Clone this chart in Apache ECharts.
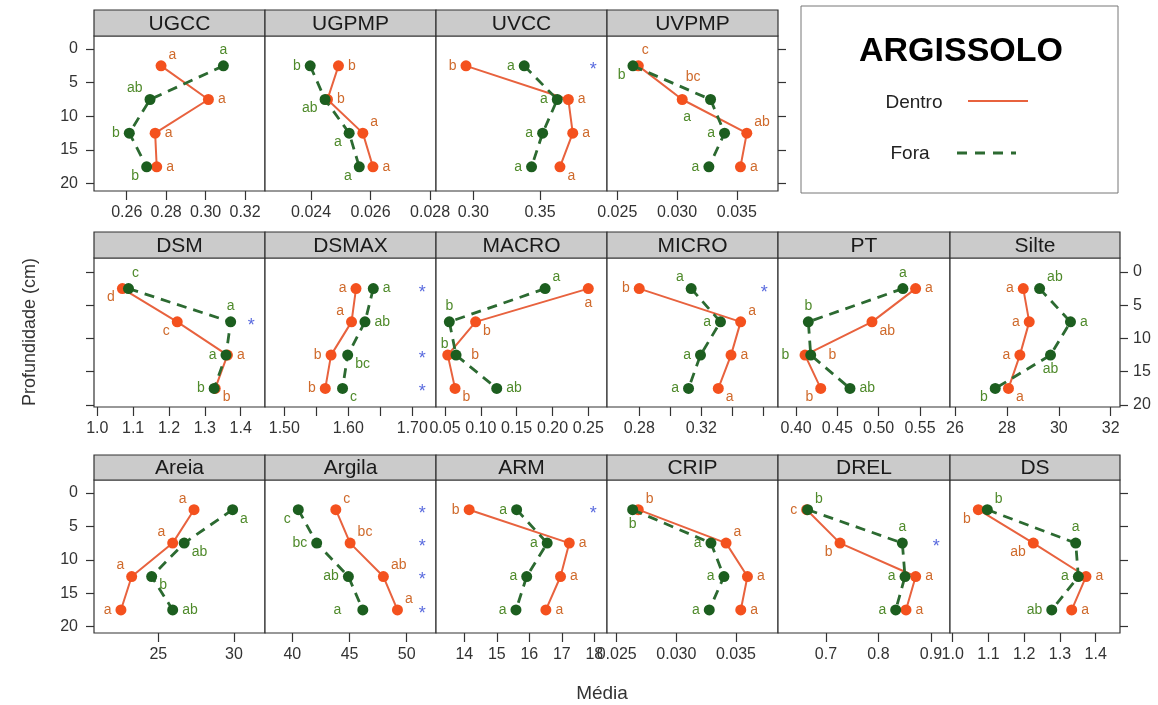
<!DOCTYPE html>
<html>
<head>
<meta charset="utf-8">
<title>ARGISSOLO</title>
<script src="https://cdn.jsdelivr.net/npm/echarts@6/dist/echarts.min.js"></script>
<style>
  html, body { margin: 0; padding: 0; background: #fff; }
  #chart { width: 1158px; height: 705px; }
</style>
</head>
<body>
<div id="chart"></div>
<script>
// profundidade (cm) - ponto médio de cada camada
const profundidade = [2.5, 7.5, 12.5, 17.5];
const ticksProf = [0, 5, 10, 15, 20];

// ---- linha 1 ----
const dentroUGCC = [0.2774, 0.3014, 0.2744, 0.2752];
const foraUGCC = [0.309, 0.2718, 0.2613, 0.2701];
const letrasDentroUGCC = ['a', 'a', 'a', 'a'];
const letrasForaUGCC = ['a', 'ab', 'b', 'b'];
const rotulosUGCC = ['0.26', '0.28', '0.30', '0.32'];

const dentroUGPMP = [0.02492, 0.02455, 0.02574, 0.02608];
const foraUGPMP = [0.02397, 0.02447, 0.02528, 0.02562];
const letrasDentroUGPMP = ['b', 'b', 'a', 'a'];
const letrasForaUGPMP = ['b', 'ab', 'a', 'a'];
const rotulosUGPMP = ['0.024', '0.026', '0.028'];

const dentroUVCC = [0.2945, 0.3713, 0.3746, 0.365];
const foraUVCC = [0.3382, 0.363, 0.352, 0.3437];
const letrasDentroUVCC = ['b', 'a', 'a', 'a'];
const letrasForaUVCC = ['a', 'a', 'a', 'a'];
const rotulosUVCC = ['0.30', '0.35'];
const estrelasUVCC = [2.5];

const dentroUVPMP = [0.02676, 0.03043, 0.03583, 0.0353];
const foraUVPMP = [0.02631, 0.0328, 0.03397, 0.03266];
const letrasDentroUVPMP = ['c', 'bc', 'ab', 'a'];
const letrasForaUVPMP = ['b', 'a', 'a', 'a'];
const rotulosUVPMP = ['0.025', '0.030', '0.035'];

// ---- linha 2 ----
const dentroDSM = [1.070, 1.223, 1.363, 1.329];
const foraDSM = [1.087, 1.372, 1.359, 1.326];
const letrasDentroDSM = ['d', 'c', 'a', 'b'];
const letrasForaDSM = ['c', 'a', 'a', 'b'];
const rotulosDSM = ['1.0', '1.1', '1.2', '1.3', '1.4'];
const estrelasDSM = [7.5];

const dentroDSMAX = [1.612, 1.605, 1.573, 1.564];
const foraDSMAX = [1.639, 1.626, 1.599, 1.591];
const letrasDentroDSMAX = ['a', 'a', 'b', 'b'];
const letrasForaDSMAX = ['a', 'ab', 'bc', 'c'];
const rotulosDSMAX = ['1.50', '1.60', '1.70'];
const marcasDSMAX = [1.50, 1.55, 1.60, 1.65, 1.70];
const estrelasDSMAX = [2.5, 12.5, 17.5];

const dentroMACRO = [0.250, 0.0927, 0.0538, 0.064];
const foraMACRO = [0.1897, 0.056, 0.0654, 0.1222];
const letrasDentroMACRO = ['a', 'b', 'b', 'b'];
const letrasForaMACRO = ['a', 'b', 'b', 'ab'];
const rotulosMACRO = ['0.05', '0.10', '0.15', '0.20', '0.25'];

const dentroMICRO = [0.280, 0.3454, 0.3392, 0.331];
const foraMICRO = [0.3135, 0.3324, 0.3195, 0.3118];
const letrasDentroMICRO = ['b', 'a', 'a', 'a'];
const letrasForaMICRO = ['a', 'a', 'a', 'a'];
const rotulosMICRO = ['0.28', '0.32'];
const marcasMICRO = [0.28, 0.30, 0.32, 0.34, 0.36];
const estrelasMICRO = [2.5];

const dentroPT = [0.5447, 0.4919, 0.4109, 0.4299];
const foraPT = [0.5293, 0.4149, 0.4178, 0.4653];
const letrasDentroPT = ['a', 'ab', 'b', 'b'];
const letrasForaPT = ['a', 'b', 'b', 'ab'];
const rotulosPT = ['0.40', '0.45', '0.50', '0.55'];

const dentroSilte = [28.63, 28.86, 28.50, 28.06];
const foraSilte = [29.26, 30.45, 29.68, 27.55];
const letrasDentroSilte = ['a', 'a', 'a', 'a'];
const letrasForaSilte = ['ab', 'a', 'ab', 'b'];
const rotulosSilte = ['26', '28', '30', '32'];

// ---- linha 3 ----
const dentroAreia = [27.36, 25.95, 23.24, 22.53];
const foraAreia = [29.91, 26.71, 24.56, 25.95];
const letrasDentroAreia = ['a', 'a', 'a', 'a'];
const letrasForaAreia = ['a', 'ab', 'b', 'ab'];
const rotulosAreia = ['25', '30'];

const dentroArgila = [43.80, 45.05, 47.96, 49.19];
const foraArgila = [40.52, 42.13, 44.90, 46.16];
const letrasDentroArgila = ['c', 'bc', 'ab', 'a'];
const letrasForaArgila = ['c', 'bc', 'ab', 'a'];
const rotulosArgila = ['40', '45', '50'];
const estrelasArgila = [2.5, 7.5, 12.5, 17.5];

const dentroARM = [14.15, 17.23, 16.96, 16.51];
const foraARM = [15.61, 16.55, 15.92, 15.59];
const letrasDentroARM = ['b', 'a', 'a', 'a'];
const letrasForaARM = ['a', 'a', 'a', 'a'];
const rotulosARM = ['14', '15', '16', '17', '18'];
const estrelasARM = [2.5];

const dentroCRIP = [0.02681, 0.03417, 0.03596, 0.0354];
const foraCRIP = [0.02634, 0.0329, 0.03399, 0.03276];
const letrasDentroCRIP = ['b', 'a', 'a', 'a'];
const letrasForaCRIP = ['b', 'a', 'a', 'a'];
const rotulosCRIP = ['0.025', '0.030', '0.035'];

const dentroDREL = [0.6632, 0.7267, 0.8708, 0.8524];
const foraDREL = [0.665, 0.8454, 0.8505, 0.8328];
const letrasDentroDREL = ['c', 'b', 'a', 'a'];
const letrasForaDREL = ['b', 'a', 'a', 'a'];
const rotulosDREL = ['0.7', '0.8', '0.9'];
const estrelasDREL = [7.5];

const dentroDS = [1.0716, 1.2255, 1.3729, 1.3329];
const foraDS = [1.0968, 1.3441, 1.3515, 1.2771];
const letrasDentroDS = ['b', 'ab', 'a', 'a'];
const letrasForaDS = ['b', 'a', 'a', 'ab'];
const rotulosDS = ['1.0', '1.1', '1.2', '1.3', '1.4'];

// cores
const corDentro = '#f4511e';
const corLinhaDentro = '#e8623e';
const corLetraDentro = '#cf6a2c';
const corFora = '#1c5e1f';
const corLinhaFora = '#2c6a31';
const corLetraFora = '#4f8a2b';
const fonte = '"Liberation Sans", Arial, sans-serif';

// layout dos paineis (estilo lattice)
const colunas = [94, 265, 436, 607, 778, 950, 1120];
const linhas = [
  { faixa: 10, topo: 36, base: 191, ymin: -1.94, ymax: 21.1 },
  { faixa: 232, topo: 258, base: 407, ymin: -2.1, ymax: 20.3 },
  { faixa: 455, topo: 480, base: 633, ymin: -1.94, ymax: 20.95 }
];

// posicao das letras: r l t b tr tl br bl rr ll bll ttr
const POS = {
  r: { position: 'right', distance: 4 },
  rr: { position: 'right', distance: 18 },
  l: { position: 'left', distance: 4 },
  ll: { position: 'left', distance: 16 },
  t: { position: 'top', distance: 3 },
  b: { position: 'bottom', distance: 2 },
  tr: { position: 'right', distance: 2, offset: [0, -11] },
  tl: { position: 'left', distance: 2, offset: [0, -11] },
  br: { position: 'right', distance: 2, offset: [0, 9] },
  bl: { position: 'left', distance: 2, offset: [0, 9] },
  bll: { position: 'left', distance: 2, offset: [-12, 18] },
  ttr: { position: 'top', distance: 3, offset: [7, 0] },
  tttr: { position: 'top', distance: 10, offset: [11, 0] }
};

const paineis = [
  { nome: 'UGCC', lin: 0, col: 0, min: 0.2434, max: 0.3301, d: dentroUGCC, f: foraUGCC, ld: letrasDentroUGCC, lf: letrasForaUGCC, rot: rotulosUGCC,
    pd: ['tr', 'r', 'r', 'r'], pf: ['t', 'tl', 'l', 'bl'], eixoY: 'left', rotY: true },
  { nome: 'UGPMP', lin: 0, col: 1, min: 0.02245, max: 0.0282, d: dentroUGPMP, f: foraUGPMP, ld: letrasDentroUGPMP, lf: letrasForaUGPMP, rot: rotulosUGPMP,
    pd: ['r', 'r', 'tr', 'r'], pf: ['l', 'bl', 'bl', 'bl'] },
  { nome: 'UVCC', lin: 0, col: 2, min: 0.272, max: 0.4003, d: dentroUVCC, f: foraUVCC, ld: letrasDentroUVCC, lf: letrasForaUVCC, rot: rotulosUVCC, est: estrelasUVCC,
    pd: ['l', 'r', 'r', 'br'], pf: ['l', 'l', 'l', 'l'] },
  { nome: 'UVPMP', lin: 0, col: 3, min: 0.02414, max: 0.03844, d: dentroUVPMP, f: foraUVPMP, ld: letrasDentroUVPMP, lf: letrasForaUVPMP, rot: rotulosUVPMP,
    pd: ['ttr', 'tttr', 'tr', 'r'], pf: ['bl', 'bll', 'l', 'l'], eixoY: 'right' },

  { nome: 'DSM', lin: 1, col: 0, min: 0.9908, max: 1.4678, d: dentroDSM, f: foraDSM, ld: letrasDentroDSM, lf: letrasForaDSM, rot: rotulosDSM, est: estrelasDSM,
    pd: ['bl', 'bl', 'r', 'br'], pf: ['ttr', 't', 'l', 'l'], eixoY: 'left' },
  { nome: 'DSMAX', lin: 1, col: 1, min: 1.4698, max: 1.737, d: dentroDSMAX, f: foraDSMAX, ld: letrasDentroDSMAX, lf: letrasForaDSMAX, rot: rotulosDSMAX, marcas: marcasDSMAX, est: estrelasDSMAX,
    pd: ['l', 'tl', 'l', 'l'], pf: ['r', 'r', 'br', 'br'] },
  { nome: 'MACRO', lin: 1, col: 2, min: 0.0374, max: 0.2761, d: dentroMACRO, f: foraMACRO, ld: letrasDentroMACRO, lf: letrasForaMACRO, rot: rotulosMACRO,
    pd: ['b', 'br', 'rr', 'br'], pf: ['tr', 't', 'tl', 'r'] },
  { nome: 'MICRO', lin: 1, col: 3, min: 0.2592, max: 0.3695, d: dentroMICRO, f: foraMICRO, ld: letrasDentroMICRO, lf: letrasForaMICRO, rot: rotulosMICRO, marcas: marcasMICRO, est: estrelasMICRO,
    pd: ['l', 'tr', 'r', 'br'], pf: ['tl', 'l', 'l', 'l'] },
  { nome: 'PT', lin: 1, col: 4, min: 0.3782, max: 0.5863, d: dentroPT, f: foraPT, ld: letrasDentroPT, lf: letrasForaPT, rot: rotulosPT,
    pd: ['r', 'br', 'rr', 'bl'], pf: ['t', 't', 'll', 'r'] },
  { nome: 'Silte', lin: 1, col: 5, min: 25.807, max: 32.358, d: dentroSilte, f: foraSilte, ld: letrasDentroSilte, lf: letrasForaSilte, rot: rotulosSilte,
    pd: ['l', 'l', 'l', 'br'], pf: ['tr', 'r', 'b', 'bl'], eixoY: 'right', rotY: true },

  { nome: 'Areia', lin: 2, col: 0, min: 20.75, max: 32.05, d: dentroAreia, f: foraAreia, ld: letrasDentroAreia, lf: letrasForaAreia, rot: rotulosAreia,
    pd: ['tl', 'tl', 'tl', 'l'], pf: ['br', 'br', 'br', 'r'], eixoY: 'left', rotY: true },
  { nome: 'Argila', lin: 2, col: 1, min: 37.61, max: 52.56, d: dentroArgila, f: foraArgila, ld: letrasDentroArgila, lf: letrasForaArgila, rot: rotulosArgila, est: estrelasArgila,
    pd: ['tr', 'tr', 'tr', 'tr'], pf: ['bl', 'l', 'l', 'll'] },
  { nome: 'ARM', lin: 2, col: 2, min: 13.13, max: 18.39, d: dentroARM, f: foraARM, ld: letrasDentroARM, lf: letrasForaARM, rot: rotulosARM, est: estrelasARM,
    pd: ['l', 'r', 'r', 'r'], pf: ['l', 'l', 'l', 'l'] },
  { nome: 'CRIP', lin: 2, col: 3, min: 0.02419, max: 0.03852, d: dentroCRIP, f: foraCRIP, ld: letrasDentroCRIP, lf: letrasForaCRIP, rot: rotulosCRIP,
    pd: ['tr', 'tr', 'r', 'r'], pf: ['b', 'l', 'l', 'l'] },
  { nome: 'DREL', lin: 2, col: 4, min: 0.6086, max: 0.9362, d: dentroDREL, f: foraDREL, ld: letrasDentroDREL, lf: letrasForaDREL, rot: rotulosDREL, est: estrelasDREL,
    pd: ['l', 'bl', 'r', 'r'], pf: ['tr', 't', 'l', 'l'] },
  { nome: 'DS', lin: 2, col: 5, min: 0.9924, max: 1.468, d: dentroDS, f: foraDS, ld: letrasDentroDS, lf: letrasForaDS, rot: rotulosDS,
    pd: ['bl', 'bl', 'r', 'r'], pf: ['tr', 't', 'l', 'l'], eixoY: 'right' }
];

const grids = [], xAxes = [], yAxes = [], series = [], graficos = [];

paineis.forEach((p, i) => {
  const lin = linhas[p.lin];
  const x0 = colunas[p.col], x1 = colunas[p.col + 1];
  const valoresRot = p.rot.map(Number);

  grids.push({
    left: x0, top: lin.topo, width: x1 - x0, height: lin.base - lin.topo,
    show: true, borderColor: '#333', borderWidth: 1.2, backgroundColor: '#fff'
  });

  xAxes.push({
    gridIndex: i, type: 'value', min: p.min, max: p.max, position: 'bottom',
    axisLine: { show: false, onZero: false }, splitLine: { show: false },
    axisTick: { show: true, length: 9, customValues: p.marcas || valoresRot, lineStyle: { color: '#333', width: 1.2 } },
    axisLabel: {
      customValues: valoresRot, margin: 14, fontSize: 16, color: '#333', fontFamily: fonte,
      formatter: v => p.rot[valoresRot.findIndex(r => Math.abs(r - v) < 1e-9)]
    }
  });

  yAxes.push({
    gridIndex: i, type: 'value', inverse: true, min: lin.ymin, max: lin.ymax,
    position: p.eixoY || 'left',
    axisLine: { show: false, onZero: false }, splitLine: { show: false },
    axisTick: { show: !!p.eixoY, length: 8, customValues: ticksProf, lineStyle: { color: '#333', width: 1.2 } },
    axisLabel: { show: !!p.rotY, customValues: ticksProf, margin: p.eixoY === 'right' ? 13 : 16, fontSize: 16, color: '#333', fontFamily: fonte }
  });

  const linhaSerie = (nome, vals, letras, pos, cor, corLinha, corLetra, tipo, z) => ({
    type: 'line', name: nome, xAxisIndex: i, yAxisIndex: i, z: z,
    data: vals.map((v, k) => ({
      value: [v, profundidade[k]],
      label: Object.assign({ show: true, formatter: letras[k] }, POS[pos[k]])
    })),
    symbol: 'circle', symbolSize: 11, showSymbol: true,
    itemStyle: { color: cor },
    lineStyle: { color: corLinha, width: tipo === 'solid' ? 2 : 2.8, type: tipo },
    label: { color: corLetra, fontSize: 14, fontFamily: fonte },
    emphasis: { disabled: true }
  });

  series.push(linhaSerie('Dentro', p.d, p.ld, p.pd, corDentro, corLinhaDentro, corLetraDentro, 'solid', 3));
  series.push(linhaSerie('Fora', p.f, p.lf, p.pf, corFora, corLinhaFora, corLetraFora, [10, 7], 4));

  if (p.est) {
    const xe = p.min + 0.92 * (p.max - p.min);
    series.push({
      type: 'scatter', xAxisIndex: i, yAxisIndex: i, z: 5,
      data: p.est.map(d => [xe, d]),
      symbolSize: 2, itemStyle: { color: 'rgba(0,0,0,0)' },
      label: { show: true, position: 'inside', formatter: '*', color: '#2f45d6', fontSize: 18, fontFamily: fonte, offset: [0, 4] },
      emphasis: { disabled: true }
    });
  }

  // faixa cinza com o nome da variável
  graficos.push({
    type: 'rect', z: 10,
    shape: { x: x0, y: lin.faixa, width: x1 - x0, height: lin.topo - lin.faixa },
    style: { fill: '#cbcbcb', stroke: '#333', lineWidth: 1.2 }
  });
  graficos.push({
    type: 'text', z: 11,
    style: { text: p.nome, x: (x0 + x1) / 2, y: (lin.faixa + lin.topo) / 2 + 1, font: '21px ' + fonte, fill: '#1a1a1a',
      align: 'center', verticalAlign: 'middle', textAlign: 'center', textVerticalAlign: 'middle' }
  });
});

// legenda (caixa ARGISSOLO)
graficos.push(
  { type: 'rect', z: 10, shape: { x: 801, y: 6, width: 317, height: 187 }, style: { fill: '#fff', stroke: '#777', lineWidth: 1 } },
  { type: 'text', z: 11, style: { text: 'ARGISSOLO', x: 961, y: 52, font: 'bold 34px ' + fonte, fill: '#000',
    align: 'center', verticalAlign: 'middle', textAlign: 'center', textVerticalAlign: 'middle' } },
  { type: 'text', z: 11, style: { text: 'Dentro', x: 914, y: 103, font: '19px ' + fonte, fill: '#222',
    align: 'center', verticalAlign: 'middle', textAlign: 'center', textVerticalAlign: 'middle' } },
  { type: 'line', z: 11, shape: { x1: 968, y1: 101, x2: 1028, y2: 101 }, style: { stroke: corLinhaDentro, lineWidth: 2 } },
  { type: 'text', z: 11, style: { text: 'Fora', x: 910, y: 154, font: '19px ' + fonte, fill: '#222',
    align: 'center', verticalAlign: 'middle', textAlign: 'center', textVerticalAlign: 'middle' } },
  { type: 'line', z: 11, shape: { x1: 957, y1: 153, x2: 1016, y2: 153 }, style: { stroke: corLinhaFora, lineWidth: 2.8, lineDash: [10, 8] } },
  // títulos dos eixos
  { type: 'text', z: 11, x: 30, y: 332, rotation: Math.PI / 2,
    style: { text: 'Profundidade (cm)', x: 0, y: 0, font: '18px ' + fonte, fill: '#333',
      align: 'center', verticalAlign: 'middle', textAlign: 'center', textVerticalAlign: 'middle' } },
  { type: 'text', z: 11, style: { text: 'Média', x: 602, y: 694, font: '19px ' + fonte, fill: '#333',
    align: 'center', verticalAlign: 'middle', textAlign: 'center', textVerticalAlign: 'middle' } }
);

const chart = echarts.init(document.getElementById('chart'), null, { renderer: 'canvas' });
chart.setOption({
  animation: false,
  backgroundColor: '#fff',
  textStyle: { fontFamily: fonte },
  grid: grids,
  xAxis: xAxes,
  yAxis: yAxes,
  series: series,
  graphic: { elements: graficos }
});
</script>
</body>
</html>
